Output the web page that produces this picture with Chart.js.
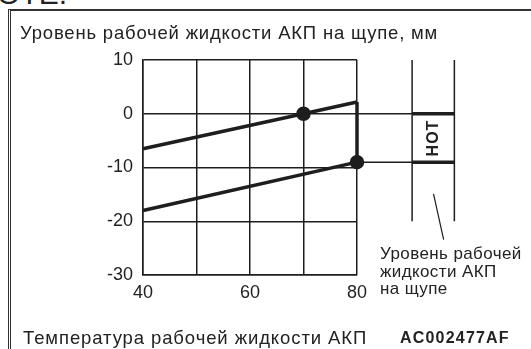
<!DOCTYPE html>
<html>
<head>
<meta charset="utf-8">
<script src="https://cdn.jsdelivr.net/npm/chart.js@4"></script>
<style>
  body { margin: 0; background: #fff; }
  #wrap { position: relative; width: 531px; height: 349px; overflow: hidden; font-family: "Liberation Sans", Arial, sans-serif; color: #222; }
  #frame { position: absolute; left: 8px; top: 9px; width: 520px; height: 345px; border-top: 2px solid #333; border-left: 3px double #333; }
  .txt { position: absolute; white-space: nowrap; line-height: 1; }
  canvas { position: absolute; left: 0; top: 0; }
</style>
</head>
<body>
<div id="wrap">
  <div class="txt" style="left:-3px; top:-21px; font-size:30px;">OTE.</div>
  <div id="frame"></div>
  <canvas id="myChart" width="531" height="349"></canvas>
  <div class="txt" style="left:20px; top:24px; font-size:18.5px; letter-spacing:0.8px;">Уровень рабочей жидкости АКП на щупе, мм</div>
  <div class="txt" style="left:23px; top:329px; font-size:18.5px; letter-spacing:0.9px;">Температура рабочей жидкости АКП</div>
  <div class="txt" style="left:400px; top:330px; font-size:16px; font-weight:bold; letter-spacing:1.2px;">AC002477AF</div>
  <div class="txt" style="left:380px; top:245px; font-size:17px; line-height:17.5px; letter-spacing:0.4px;">Уровень рабочей<br>жидкости АКП<br>на щупе</div>
  <div class="txt" style="left:411px; top:130px; width:44px; text-align:center; font-size:16px; font-weight:bold; letter-spacing:1px; transform:rotate(-90deg);">HOT</div>
</div>
<script>
// temperature (x) and dipstick level (y) values
const tempTicks = [40, 60, 80];
const levelTicks = [10, 0, -10, -20, -30];

const upperTemp = [40, 70, 80];
const upperLevel = [-6.5, 0, 2.2];
const lowerTemp = [40, 80];
const lowerLevel = [-18, -9];
const dropTemp = [80, 80];
const dropLevel = [2.2, -9];

// dipstick drawing on the right, in the same axis units
const gaugeTemp = [90.3, 98.2];
const gaugeLevel = [10, 0, -9, -20];
const leaderTemp = [94.3, 96.2];
const leaderLevel = [-14.9, -23.4];

function pts(xs, ys) {
    return xs.map((x, i) => ({x: x, y: ys[i]}));
}

document.addEventListener('DOMContentLoaded', function () {
    const ink = '#1e1e1e';
    const thin = 1.5;
    const thick = 3.5;

    function seg(data, width, radius) {
        return {
            data: data,
            borderColor: ink,
            backgroundColor: ink,
            borderWidth: width,
            pointRadius: radius || 0,
            clip: false,
            tension: 0
        };
    }

    const datasets = [
        // extensions to the dipstick
        seg(pts([80, gaugeTemp[1]], [0, 0]), thin),
        seg(pts([80, gaugeTemp[1]], [-9, -9]), thin),
        seg(pts([gaugeTemp[0], gaugeTemp[0]], [gaugeLevel[0], gaugeLevel[3]]), thin),
        seg(pts([gaugeTemp[1], gaugeTemp[1]], [gaugeLevel[0], gaugeLevel[3]]), thin),
        seg(pts(gaugeTemp, [gaugeLevel[1], gaugeLevel[1]]), thick),
        seg(pts(gaugeTemp, [gaugeLevel[2], gaugeLevel[2]]), thick),
        Object.assign(seg(pts(leaderTemp, leaderLevel), 1.2), {pointRadius: [3, 0]}),
        // level curves
        Object.assign(seg(pts(upperTemp, upperLevel), thick), {pointRadius: [0, 5.5, 0]}),
        seg(pts(dropTemp, dropLevel), thick),
        Object.assign(seg(pts(lowerTemp, lowerLevel), thick), {pointRadius: [0, 5.5]})
    ];

    const ctx = document.getElementById('myChart').getContext('2d');
    const chart = new Chart(ctx, {
        type: 'line',
        data: { datasets: datasets },
        options: {
            responsive: false,
            animation: false,
            layout: { padding: { top: 60, right: 174, left: 0, bottom: 0 } },
            plugins: { legend: { display: false }, tooltip: { enabled: false } },
            scales: {
                x: {
                    type: 'linear',
                    min: 40,
                    max: 80,
                    afterFit: function (s) { s.height = 74; },
                    border: { color: ink, width: thin },
                    grid: { color: ink, lineWidth: thin, drawTicks: false },
                    ticks: {
                        stepSize: 10,
                        padding: 7,
                        color: '#222',
                        font: { family: '"Liberation Sans", Arial', size: 18 },
                        callback: v => tempTicks.includes(v) ? String(v) : ''
                    }
                },
                y: {
                    min: -30,
                    max: 10,
                    afterFit: function (s) { s.width = 143; },
                    border: { color: ink, width: thin },
                    grid: { color: ink, lineWidth: thin, drawTicks: false },
                    ticks: {
                        stepSize: 10,
                        padding: 10,
                        color: '#222',
                        font: { family: '"Liberation Sans", Arial', size: 18 },
                        callback: v => levelTicks.includes(v) ? String(v) : ''
                    }
                }
            }
        }
    });
});
</script>
</body>
</html>
